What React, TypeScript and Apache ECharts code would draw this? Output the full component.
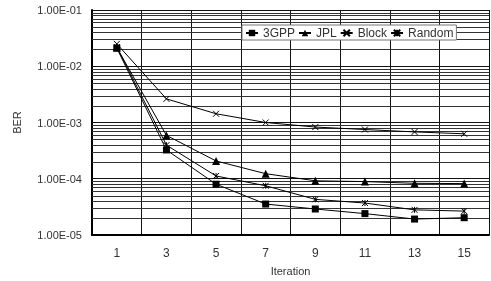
import React, { useEffect, useRef } from "react";
import * as echarts from "echarts";

const iterations = ["1", "3", "5", "7", "9", "11", "13", "15"];
const seriesNames = ["3GPP", "JPL", "Block", "Random"];
const ber3GPP = [2.1e-2, 3.25e-4, 8.0e-5, 3.55e-5, 2.9e-5, 2.4e-5, 1.92e-5, 2.03e-5];
const berJPL = [2.15e-2, 5.9e-4, 2.07e-4, 1.23e-4, 9.2e-5, 8.9e-5, 8.3e-5, 8.2e-5];
const berBlock = [2.5e-2, 2.63e-3, 1.43e-3, 1.0e-3, 8.3e-4, 7.5e-4, 6.8e-4, 6.3e-4];
const berRandom = [2.2e-2, 3.96e-4, 1.12e-4, 7.5e-5, 4.3e-5, 3.7e-5, 2.8e-5, 2.66e-5];
const decades = [1e-5, 1e-4, 1e-3, 1e-2];
const minorMultipliers = [2, 3, 4, 5, 6, 7, 8, 9];

const fmt = (v: number) => {
  const e = Math.round(Math.log10(v));
  const m = v / Math.pow(10, e);
  const sign = e < 0 ? "-" : "+";
  const a = Math.abs(e);
  return m.toFixed(2) + "E" + sign + (a < 10 ? "0" + a : String(a));
};

export default function App() {
  const ref = useRef<HTMLDivElement>(null);
  useEffect(() => {
    if (!ref.current) return;
    const chart = echarts.init(ref.current, null, { renderer: "svg" });
    const minorValues: number[] = [];
    decades.forEach((d) => minorMultipliers.forEach((m) => minorValues.push(d * m)));
    const font = "'Liberation Sans', Arial, sans-serif";
    const mk = (name: string, data: number[], symbol: string, size: number) => ({
      name,
      type: "line",
      data,
      symbol,
      symbolSize: size,
      showSymbol: true,
      lineStyle: { color: "#000", width: 1 },
      itemStyle: { color: "#000", borderColor: "#000", borderWidth: symbol.startsWith("path") ? 1 : 0 },
      z: 5,
    });
    chart.setOption({
      animation: false,
      grid: { left: 92, right: 2, top: 10, bottom: 45 },
      legend: {
        data: seriesNames,
        left: 242,
        top: 25,
        padding: [2, 3, 1, 3],
        itemGap: 3,
        itemWidth: 12,
        itemHeight: 8,
        backgroundColor: "#fff",
        borderColor: "#777",
        borderWidth: 1,
        textStyle: { fontFamily: font, fontSize: 12, color: "#333" },
      },
      xAxis: {
        type: "category",
        data: iterations,
        boundaryGap: true,
        name: "Iteration",
        nameLocation: "middle",
        nameGap: 30,
        nameTextStyle: { fontFamily: font, fontSize: 11, color: "#333" },
        axisLine: { show: true, lineStyle: { color: "#000", width: 2 } },
        axisTick: { show: false },
        axisLabel: { fontFamily: font, fontSize: 12, color: "#333", margin: 12 },
        splitLine: { show: true, lineStyle: { color: "#111", width: 1 } },
      },
      yAxis: {
        type: "log",
        logBase: 10,
        min: 1e-5,
        max: 1e-1,
        name: "BER",
        nameLocation: "middle",
        nameGap: 70,
        nameTextStyle: { fontFamily: font, fontSize: 11, color: "#333" },
        axisLine: { show: true, lineStyle: { color: "#000", width: 2 } },
        axisTick: { show: false },
        axisLabel: { fontFamily: font, fontSize: 11, color: "#333", margin: 10, formatter: fmt },
        splitLine: { show: true, lineStyle: { color: "#111", width: 1 } },
      },
      series: [
        {
          name: "minorGrid",
          type: "custom",
          silent: true,
          z: 1,
          data: minorValues.map((v) => [0, v]),
          encode: { x: 0, y: 1 },
          renderItem: (params: any, api: any) => {
            const cs = params.coordSys;
            const y = Math.round(api.coord([0, api.value(1)])[1]) + 0.5;
            return {
              type: "line",
              shape: { x1: cs.x, y1: y, x2: cs.x + cs.width, y2: y },
              style: { stroke: "#333", lineWidth: 1 },
            };
          },
        },
        mk("3GPP", ber3GPP, "rect", 7),
        mk("JPL", berJPL, "triangle", 8),
        mk("Block", berBlock, "path://M0,0L10,10M10,0L0,10", 6),
        mk("Random", berRandom, "path://M0,0L10,10M10,0L0,10M5,0L5,10", 6),
      ],
    });
    return () => chart.dispose();
  }, []);
  return (
    <div
      ref={ref}
      style={{ width: 491, height: 281, position: "fixed", left: 0, top: 0 }}
    />
  );
}
